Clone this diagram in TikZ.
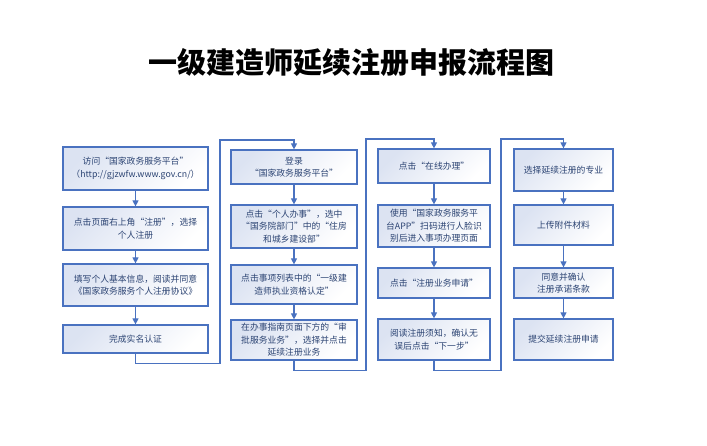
\documentclass[tikz,border=0pt]{standalone}
\usepackage{fontspec}
\newfontfamily\cjk{Noto Sans CJK SC}
\usetikzlibrary{arrows.meta}
\definecolor{bl}{HTML}{4A72C0}
\definecolor{fl}{HTML}{DCE3F2}
\begin{document}
\begin{tikzpicture}[x=1pt,y=-1pt,
  bx/.style={draw=bl,line width=1.2pt,left color=fl,right color=white,shading angle=45,align=center,font=\cjk\fontsize{8.8}{12.5}\selectfont,text=bl!60!black,inner sep=1pt},
  ar/.style={draw=bl,line width=1.1pt,-{Triangle[width=6pt,length=6pt]}}]
\useasboundingbox (0,0) rectangle (707,446);
\node[font=\cjk\bfseries\fontsize{29}{32}\selectfont] (t) at (351,62) {一级建造师延续注册申报流程图};
\def\B#1#2#3#4#5#6{\pgfmathsetmacro\ww{#3-#2}\pgfmathsetmacro\hh{#5-#4}\node[bx,minimum width=\ww pt,minimum height=\hh pt] (#1) at ({(#2+#3)/2},{(#4+#5)/2}) {#6};}
\B{a1}{63}{208}{147}{190}{访问“国家政务服务平台”\\（http://gjzwfw.www.gov.cn/）}
\B{a2}{63}{208}{207}{250}{点击页面右上角“注册”，选择\\个人注册}
\B{a3}{63}{208}{264}{306}{填写个人基本信息，阅读并同意\\《国家政务服务个人注册协议》}
\B{a4}{63}{208}{325}{353}{完成实名认证}
\B{b1}{231}{357}{150}{184}{登录\\“国家政务服务平台”}
\B{b2}{231}{357}{205}{248}{点击“个人办事”，选中\\“国务院部门”中的“住房\\和城乡建设部”}
\B{b3}{231}{357}{265}{304}{点击事项列表中的“一级建\\造师执业资格认定”}
\B{b4}{231}{357}{320}{360}{在办事指南页面下方的“审\\批服务业务”，选择并点击\\延续注册业务}
\B{c1}{378}{490}{149}{183}{点击“在线办理”}
\B{c2}{378}{490}{205}{247}{使用“国家政务服务平\\台APP”扫码进行人脸识\\别后进入事项办理页面}
\B{c3}{378}{490}{268}{298}{点击“注册业务申请”}
\B{c4}{378}{490}{319}{360}{阅读注册须知，确认无\\误后点击“下一步”}
\B{d1}{514}{613}{149}{191}{选择延续注册的专业}
\B{d2}{514}{613}{205}{245}{上传附件材料}
\B{d3}{514}{613}{268}{298}{同意并确认\\注册承诺条款}
\B{d4}{514}{613}{319}{360}{提交延续注册申请}
\foreach \c in {a,b,c,d}{
 \draw[ar] (\c1) -- (\c2); \draw[ar] (\c2) -- (\c3); \draw[ar] (\c3) -- (\c4);}
\draw[ar] (a4.south) -- ++(0,10) -| (220,140) -| (b1.north);
\draw[ar] (b4.south) -- ++(0,10) -| (366,139) -| (c1.north);
\draw[ar] (c4.south) -- ++(0,10) -| (501,139) -| (d1.north);
\end{tikzpicture}
\end{document}
